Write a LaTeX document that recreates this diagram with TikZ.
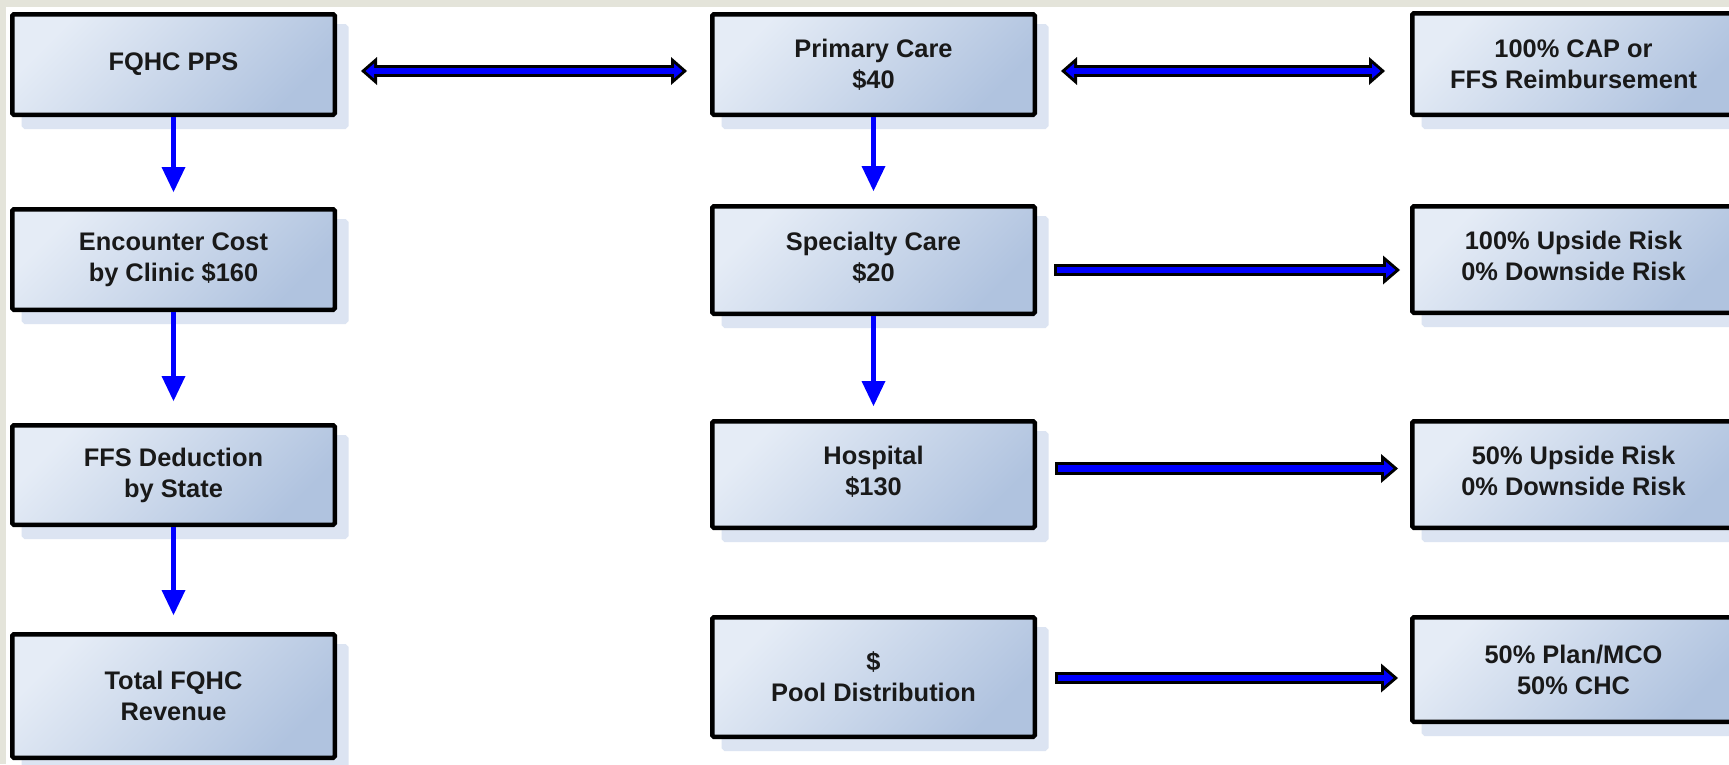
\documentclass[tikz,border=0pt]{standalone}
\usepackage{fontspec}
\setmainfont{Liberation Sans}
\usetikzlibrary{arrows.meta,shadows}

\definecolor{boxlight}{RGB}{229,236,246}
\definecolor{boxdark}{RGB}{176,195,223}
\definecolor{boxshadow}{RGB}{220,228,242}
\definecolor{pagegray}{RGB}{228,228,218}
\definecolor{arrowblue}{RGB}{0,0,255}

\tikzset{
  box/.style={draw=black, line width=4.5pt, rounded corners=1.5pt,
    minimum width=322.5pt, top color=boxlight, bottom color=boxdark, shading angle=45,
    drop shadow={shadow xshift=11.5pt, shadow yshift=-12pt, fill=boxshadow, draw=boxshadow, opacity=1},
    align=center, text=black!90, font=\bfseries\fontsize{25.4}{31}\selectfont},
  raised/.style={text depth=6.6pt},
  downarrow/.style={arrowblue, line width=5pt, -{Triangle[length=25pt,width=24pt,line width=0pt]}},
  dblout/.style={black, line width=12pt,
    {Triangle[length=16pt,width=28pt,line width=0pt]}-{Triangle[length=16pt,width=28pt,line width=0pt]}},
  dblin/.style={arrowblue, line width=6pt, shorten <=4.5pt, shorten >=4.5pt,
    {Triangle[length=8.5pt,width=14.8pt,line width=0pt]}-{Triangle[length=8.5pt,width=14.8pt,line width=0pt]}},
  oneout/.style={black, line width=12.5pt, -{Triangle[length=17pt,width=29pt,line width=0pt]}},
  onein/.style={arrowblue, line width=6.5pt, shorten <=3pt, shorten >=4.6pt,
    -{Triangle[length=9.4pt,width=16pt,line width=0pt]}}
}

\begin{document}
\begin{tikzpicture}[x=1pt, y=-1pt]
\useasboundingbox (0,0) rectangle (1729,764);
\clip (0,0) rectangle (1729,764);
\fill[white] (0,0) rectangle (1729,764);
\fill[pagegray] (0,0) rectangle (1729,7);
\fill[pagegray] (0,0) rectangle (6,764);

% left column
\node[box, minimum height=100.5pt] (fqhc) at (173.5,64.5) {FQHC PPS};
\node[box, minimum height=100.5pt] (enc) at (173.5,259.5) {Encounter Cost\\by Clinic \$160};
\node[box, minimum height=99.5pt] (ffs) at (173.5,475) {FFS Deduction\\by State};
\node[box, minimum height=123.5pt] (total) at (173.5,696) {Total FQHC\\Revenue};

% middle column
\node[box, minimum height=100.5pt] (prim) at (873.5,64.5) {Primary Care\\\$40};
\node[box, raised, minimum height=107.5pt] (spec) at (873.5,260) {Specialty Care\\\$20};
\node[box, raised, minimum height=106.5pt] (hosp) at (873.5,474.5) {Hospital\\\$130};
\node[box, minimum height=119.5pt] (pool) at (873.5,677) {\$\\Pool Distribution};

% right column
\node[box, minimum height=101.5pt] (cap) at (1573.5,64) {100\% CAP or\\FFS Reimbursement};
\node[box, raised, minimum height=106.5pt] (up100) at (1573.5,259.5) {100\% Upside Risk\\0\% Downside Risk};
\node[box, raised, minimum height=106.5pt] (up50) at (1573.5,474.5) {50\% Upside Risk\\0\% Downside Risk};
\node[box, minimum height=104.5pt] (plan) at (1573.5,669.5) {50\% Plan/MCO\\50\% CHC};

% down arrows
\draw[downarrow] (fqhc.south) -- ([yshift=15pt]enc.north);
\draw[downarrow] (enc.south) -- ([yshift=22pt]ffs.north);
\draw[downarrow] (ffs.south) -- ([yshift=17pt]total.north);
\draw[downarrow] (prim.south) -- ([yshift=13pt]spec.north);
\draw[downarrow] (spec.south) -- ([yshift=13pt]hosp.north);

% block arrows
\draw[dblout] ([xshift=24pt,yshift=-6.5pt]fqhc.east) -- ([xshift=-23pt,yshift=-6.5pt]prim.west);
\draw[dblin] ([xshift=24pt,yshift=-6.5pt]fqhc.east) -- ([xshift=-23pt,yshift=-6.5pt]prim.west);
\draw[dblout] ([xshift=24pt,yshift=-6.5pt]prim.east) -- ([xshift=-25pt,yshift=-7pt]cap.west);
\draw[dblin] ([xshift=24pt,yshift=-6.5pt]prim.east) -- ([xshift=-25pt,yshift=-7pt]cap.west);
\draw[oneout] ([xshift=17pt,yshift=-10pt]spec.east) -- ([xshift=-10pt,yshift=-10.5pt]up100.west);
\draw[onein] ([xshift=17pt,yshift=-10pt]spec.east) -- ([xshift=-10pt,yshift=-10.5pt]up100.west);
\draw[oneout] ([xshift=18pt,yshift=6pt]hosp.east) -- ([xshift=-12pt,yshift=6pt]up50.west);
\draw[onein] ([xshift=18pt,yshift=6pt]hosp.east) -- ([xshift=-12pt,yshift=6pt]up50.west);
\draw[oneout] ([xshift=18pt,yshift=-1pt]pool.east) -- ([xshift=-12pt,yshift=-8.5pt]plan.west);
\draw[onein] ([xshift=18pt,yshift=-1pt]pool.east) -- ([xshift=-12pt,yshift=-8.5pt]plan.west);
\end{tikzpicture}
\end{document}
